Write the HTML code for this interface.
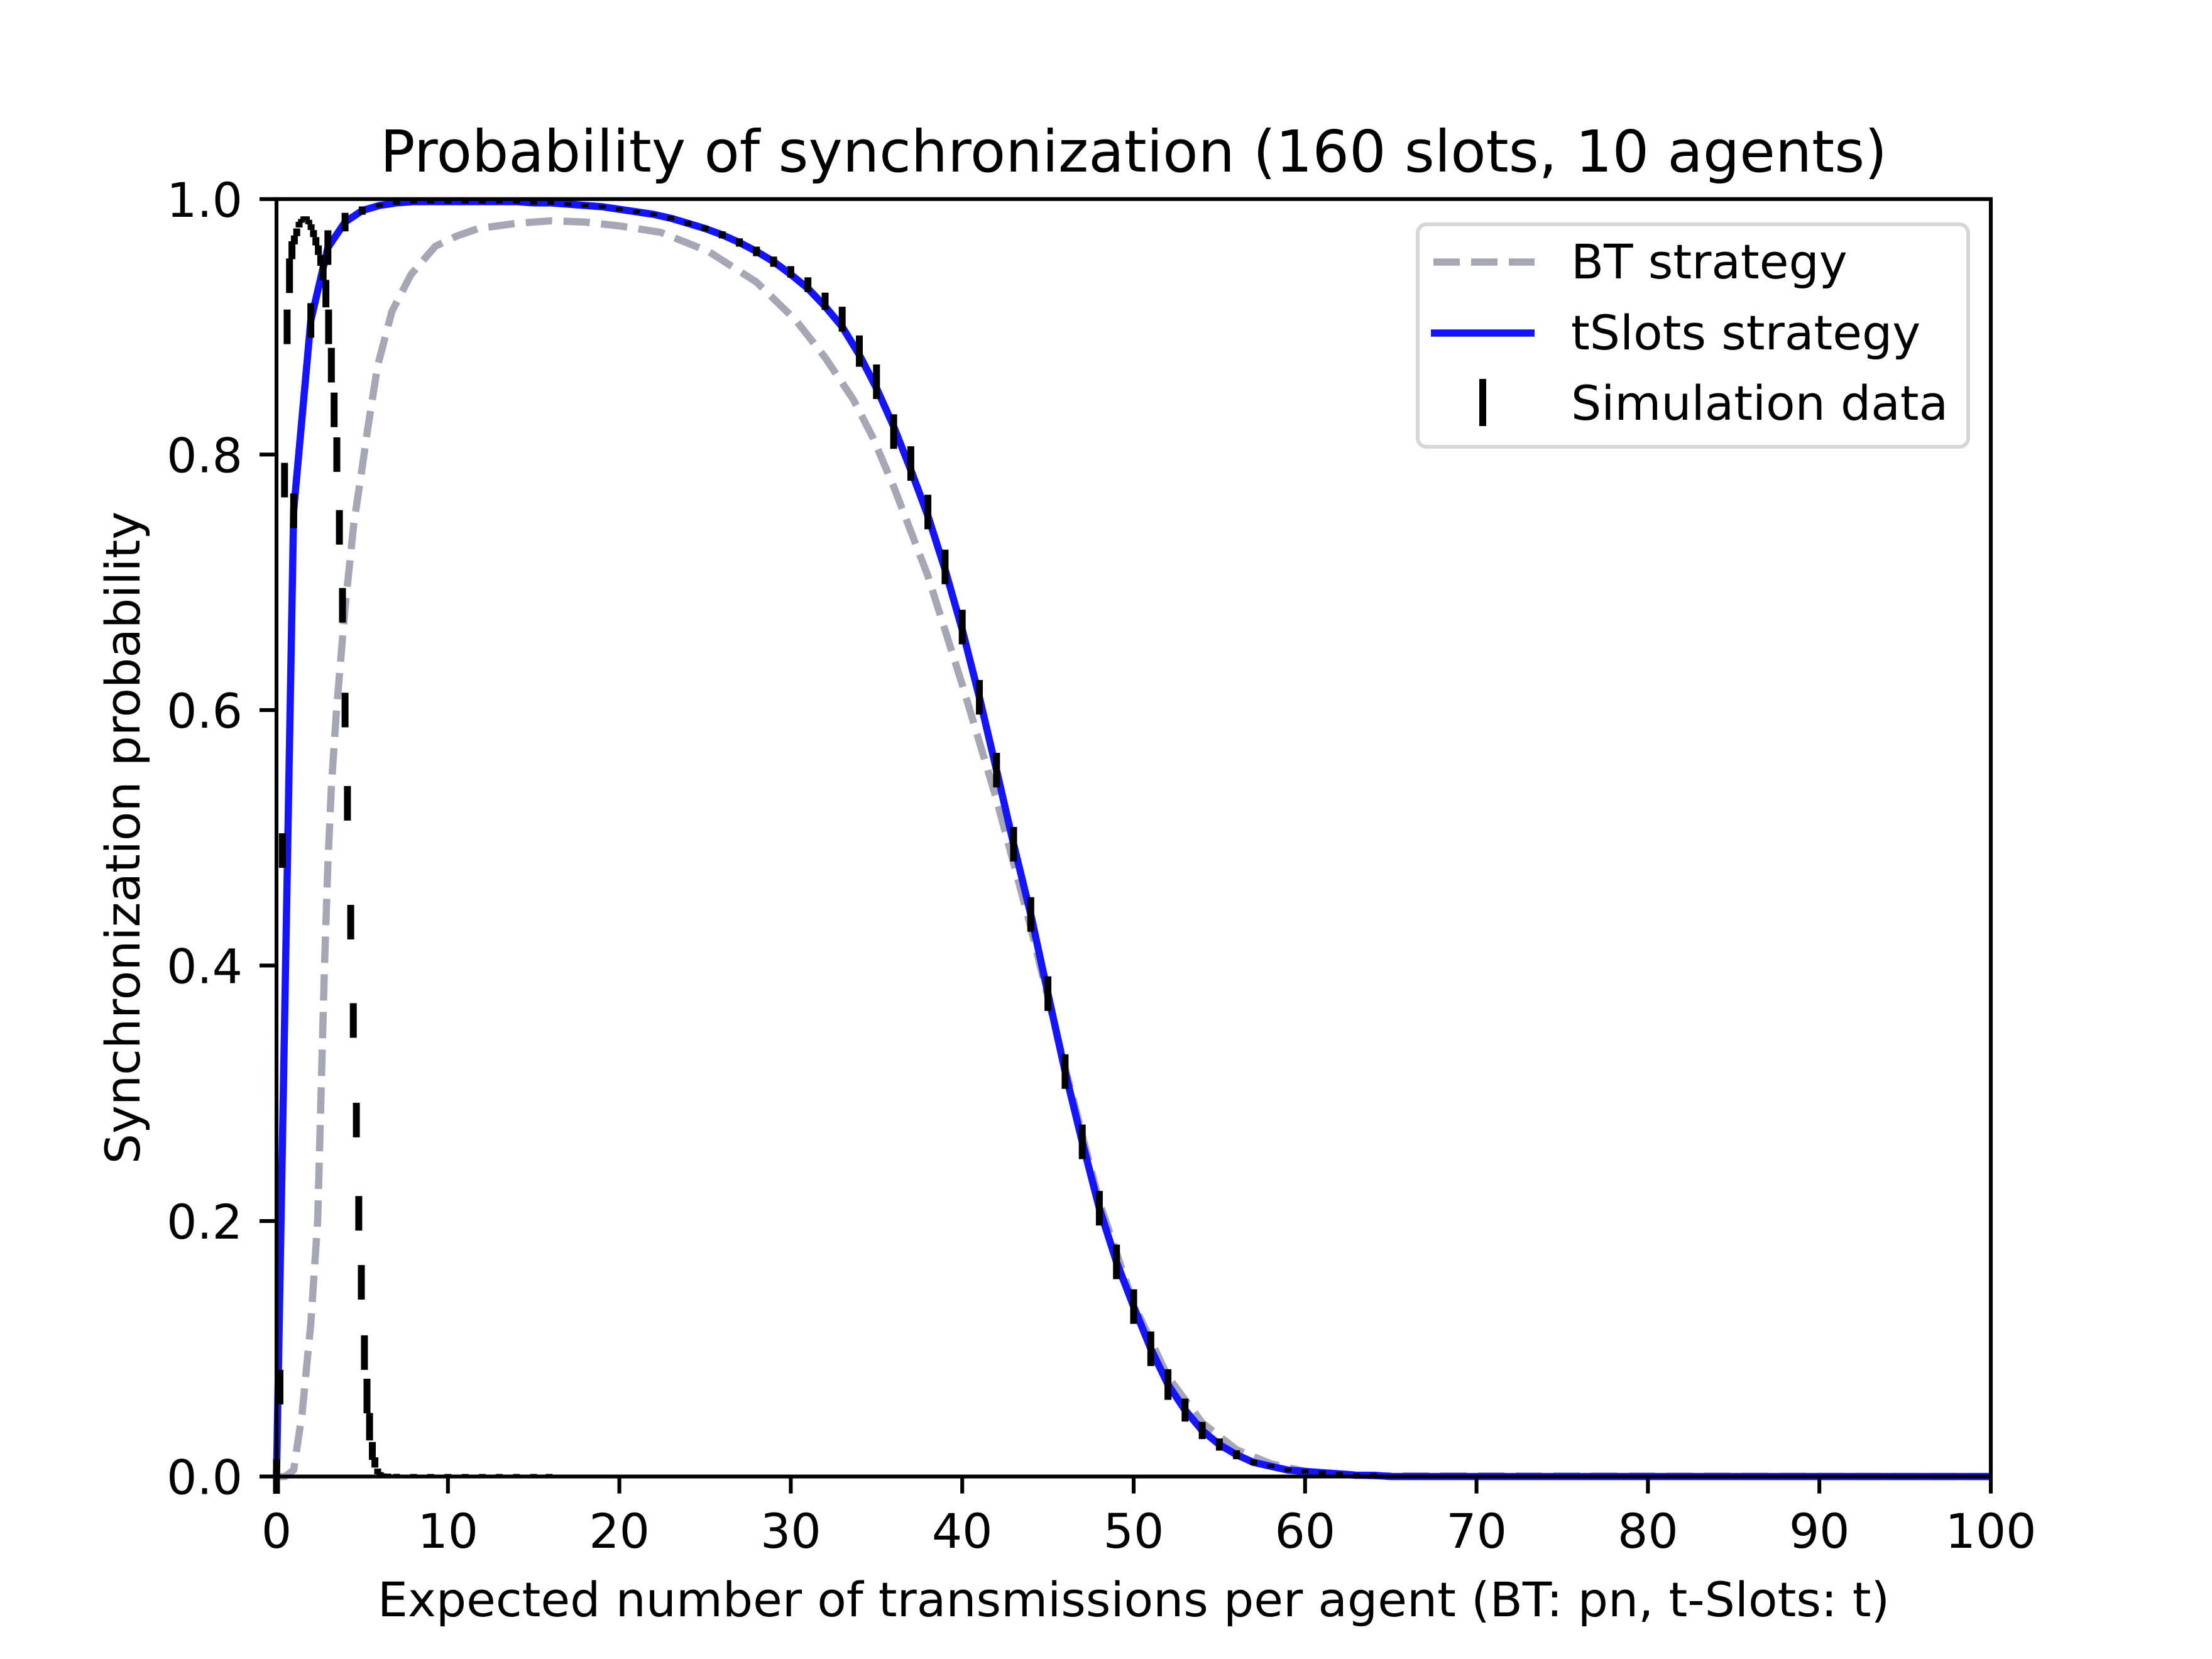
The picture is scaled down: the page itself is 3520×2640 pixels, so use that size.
<!DOCTYPE html>
<html><head><meta charset="utf-8"><style>
html,body{margin:0;padding:0;background:#fff}
svg{display:block}
text{font-family:"DejaVu Sans","Liberation Sans",sans-serif;fill:#000}
</style></head><body>
<svg id="chart" width="3520" height="2640" viewBox="0 0 3520 2640" xmlns="http://www.w3.org/2000/svg">
<rect x="0" y="0" width="3520" height="2640" fill="#fff"/>
<g id="plot"></g>
<g id="axes"></g>
<text x="1804" y="273" font-size="92" text-anchor="middle">Probability of synchronization (160 slots, 10 agents)</text>
<text x="1804" y="2572" font-size="76" text-anchor="middle">Expected number of transmissions per agent (BT: pn, t-Slots: t)</text>
<text x="0" y="0" font-size="76" text-anchor="middle" transform="translate(222,1333) rotate(-90)">Synchronization probability</text>
<g id="legend">
<rect x="2256" y="357" width="876" height="354" rx="14" fill="#fff" fill-opacity="0.8" stroke="#d6d6d6" stroke-width="6"/>
<line x1="2281" y1="417" x2="2442" y2="417" stroke="#a6a6b4" stroke-width="11.5" stroke-dasharray="42 18"/>
<text x="2500" y="443" font-size="76">BT strategy</text>
<line x1="2277" y1="530" x2="2442" y2="530" stroke="#1414ff" stroke-width="11.5"/>
<text x="2500" y="556" font-size="76">tSlots strategy</text>
<rect x="2354" y="603" width="11" height="75" fill="#000"/>
<text x="2500" y="668" font-size="76">Simulation data</text>
</g>
</svg>
<script>
const xTicks = [0,10,20,30,40,50,60,70,80,90,100];
const yTicks = [0.0,0.2,0.4,0.6,0.8,1.0];
const yTickLabels = ["0.0","0.2","0.4","0.6","0.8","1.0"];
const btX = [0,0.5,1,1.5,2,2.4,2.6,2.8,3.0,3.2,3.5,4,4.5,5,5.32,5.89,6.73,7.85,9.26,10.5,11.77,14,16,18,20,22.4,25.2,28,30.3,32,33.65,34.8,36,38,40,42,44,46,48,50,52,54,56,58,60,62,64,100];
const btY = [0,0,0.005,0.05,0.12,0.2,0.3,0.4,0.48,0.54,0.6,0.68,0.745,0.79,0.82,0.869,0.912,0.941,0.963,0.971,0.977,0.981,0.983,0.982,0.979,0.974,0.959,0.935,0.905,0.876,0.843,0.813,0.775,0.705,0.62,0.53,0.43,0.32,0.215,0.135,0.078,0.042,0.021,0.01,0.004,0.002,0.0005,0];
const tY = [0,0.756,0.905,0.962,0.982,0.991,0.995,0.997,0.998,0.998,0.998,0.998,0.998,0.998,0.998,0.997,0.997,0.996,0.995,0.994,0.992,0.99,0.988,0.985,0.981,0.977,0.972,0.966,0.959,0.951,0.941,0.93,0.916,0.9,0.878,0.852,0.822,0.788,0.752,0.71,0.663,0.61,0.553,0.495,0.44,0.378,0.317,0.262,0.21,0.168,0.133,0.1,0.072,0.052,0.036,0.025,0.017,0.011,0.008,0.005,0.004,0.003,0.002,0.001,0.001,0,0];
const tTailX = [100];
const tTailY = [0];
const simY = [0,0.756,0.905,0.962,0.982,0.991,0.995,0.997,0.998,0.998,0.998,0.998,0.998,0.998,0.998,0.997,0.997,0.996,0.995,0.994,0.992,0.99,0.988,0.985,0.981,0.977,0.972,0.966,0.959,0.951,0.943,0.933,0.92,0.906,0.881,0.857,0.818,0.793,0.755,0.712,0.665,0.61,0.553,0.495,0.44,0.378,0.317,0.262,0.21,0.168,0.133,0.1,0.072,0.052,0.036,0.025,0.017,0.011,0.008,0.005,0.004,0.003,0.002,0.001,0.001];
const denseX = [0.2,0.34,0.47,0.62,0.76,0.9,1.04,1.18,1.32,1.46,1.6,1.74,1.88,2.02,2.16,2.3,2.44,2.58,2.72,2.88,3.04,3.2,3.36,3.52,3.67,3.85,4.0,4.14,4.33,4.48,4.66,4.8,4.95,5.13,5.28,5.43,5.59,5.74,5.9,6.05,6.2,6.5,7,8,9,10,11,12,13,14,15,15.9];
const denseY = [0.07,0.49,0.78,0.9,0.94,0.96,0.968,0.974,0.98,0.983,0.985,0.985,0.982,0.978,0.973,0.967,0.96,0.952,0.943,0.926,0.9,0.87,0.835,0.8,0.743,0.682,0.6,0.527,0.434,0.357,0.279,0.206,0.152,0.097,0.063,0.039,0.02,0.011,0.004,0.002,0.001,0.0008,0.0006,0.0005,0.0005,0.0005,0.0005,0.0005,0.0005,0.0005,0.0005,0.0005];

const L=440,R=3168,T=316.8,B=2349.6;
const sx=v=>L+(v-0)/(100-0)*(R-L);
const sy=v=>B-(v-0)/(1-0)*(B-T);
const NS="http://www.w3.org/2000/svg";
const plot=document.getElementById('plot');
const axes=document.getElementById('axes');
function mk(tag,attrs,parent){const e=document.createElementNS(NS,tag);for(const k in attrs)e.setAttribute(k,attrs[k]);parent.appendChild(e);return e;}

let d=btX.map((x,i)=>(i?'L':'M')+sx(x).toFixed(1)+' '+sy(btY[i]).toFixed(1)).join(' ');
const bt=mk('path',{d:d,fill:'none',stroke:'#a6a6b4','stroke-width':11.5,'stroke-dasharray':'42 18','stroke-linejoin':'round'},plot);



let pts=tY.map((y,i)=>[i,y]).concat(tTailX.map((x,i)=>[x,tTailY[i]]));
d=pts.map((p,i)=>(i?'L':'M')+sx(p[0]).toFixed(1)+' '+sy(p[1]).toFixed(1)).join(' ');
const tl=mk('path',{d:d,fill:'none',stroke:'#1414ff','stroke-width':11.5,'stroke-linejoin':'round'},plot);



function markers(xs,ys,name){
  const g=mk('g',{},plot);
  
  
  for(let i=0;i<xs.length;i++){
    const a=sy(ys[Math.max(0,i-1)]),b=sy(ys[Math.min(ys.length-1,i+1)]);
    let h=Math.abs(b-a)/2;h=Math.max(6,Math.min(55,h));
    const r=mk('rect',{x:(sx(xs[i])-5.5).toFixed(1),y:(sy(ys[i])-h/2).toFixed(1),width:11,height:h.toFixed(1),fill:'#000'},g);
    
    
  }
}
markers(simY.map((y,i)=>i),simY,'simulation-tslots-markers');
markers(denseX,denseY,'simulation-bt-markers');

const fr=mk('rect',{x:L,y:T,width:R-L,height:B-T,fill:'none',stroke:'#000','stroke-width':6.1},axes);


xTicks.forEach(v=>{
  const l=mk('line',{x1:sx(v),x2:sx(v),y1:B,y2:B+27,stroke:'#000','stroke-width':6.1},axes);
  
  
  const t=mk('text',{x:sx(v),y:2463,'font-size':76,'text-anchor':'middle'},axes);
  t.textContent=v;
  
  
});
yTicks.forEach((v,i)=>{
  const l=mk('line',{x1:L-27,x2:L,y1:sy(v),y2:sy(v),stroke:'#000','stroke-width':6.1},axes);
  
  
  const t=mk('text',{x:386,y:sy(v)+28,'font-size':76,'text-anchor':'end'},axes);
  t.textContent=yTickLabels[i];
  
  
});
</script>
</body></html>
